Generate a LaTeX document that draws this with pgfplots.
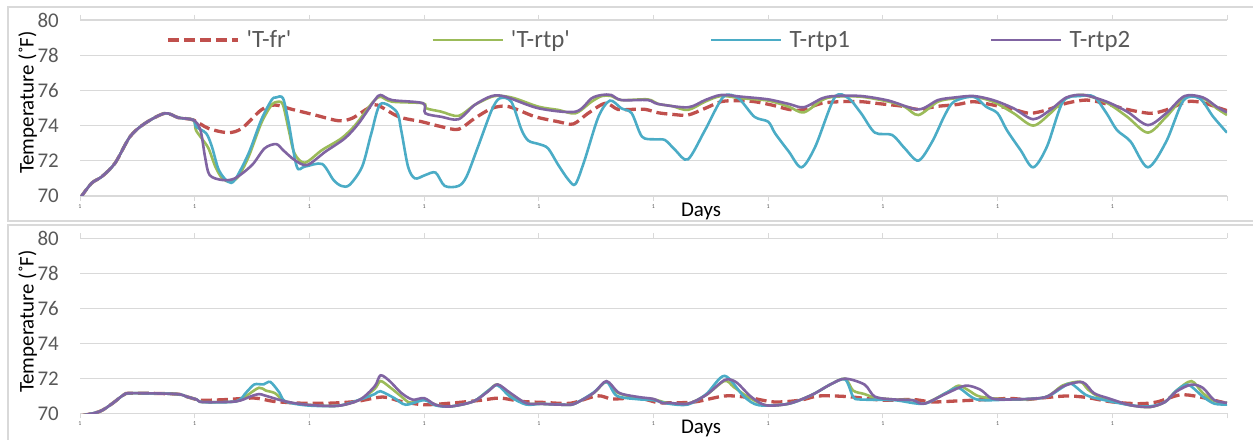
\documentclass[border=0pt]{standalone}
\usepackage{pgfplots}
\pgfplotsset{compat=1.18}
\usepackage{fontspec}
\setmainfont{Carlito}[Ligatures=TeXOff]
\definecolor{cfr}{HTML}{C0504D}
\definecolor{crtp}{HTML}{9BBB59}
\definecolor{crtpa}{HTML}{4BACC6}
\definecolor{crtpb}{HTML}{8064A2}
\definecolor{gridgray}{HTML}{D9D9D9}
\definecolor{tickgray}{HTML}{595959}
\pgfplotsset{panel/.style={
  scale only axis, width=1147bp, xmin=0, xmax=10, ymin=70, ymax=80,
  ytick={70,72,...,80}, xtick={0,...,10},
  xticklabels={1,1,1,1,1,1,1,1,1,1,{}},
  ymajorgrids, grid style={draw=gridgray, line width=1.3bp},
  axis line style={draw=none},
  tick align=outside, major tick length=5bp,
  xtick style={draw=gridgray, line width=1bp},
  ytick style={draw=none},
  yticklabel style={font=\fontsize{21}{21}\selectfont, text=tickgray, inner sep=0pt, anchor=east, xshift=-16bp},
  xticklabel style={font=\fontsize{6}{6}\selectfont, text=tickgray, inner sep=0pt, yshift=-3bp},
  /pgf/number format/assume math mode=true,
  every axis plot/.append style={smooth, tension=0.5},
  legend image code/.code={\draw[#1] (0bp,0bp) -- (70bp,0bp);},
}}
\tikzset{
  sfr/.style={cfr, line width=3.3bp, dash pattern=on 11bp off 5bp},
  srtp/.style={crtp, line width=2.6bp},
  srtpa/.style={crtpa, line width=2.6bp},
  srtpb/.style={crtpb, line width=2.6bp},
}
\begin{document}
\begin{tikzpicture}
\useasboundingbox (0,0) rectangle (1253bp,440bp);
\draw[gridgray, line width=1.3bp] (8bp,433bp) rectangle (1300bp,219bp);
\draw[gridgray, line width=1.3bp] (8bp,215bp) rectangle (1300bp,-10bp);
% ---------------- top panel
\begin{axis}[panel, height=176bp, at={(80bp,244bp)}, anchor=south west,
  legend style={draw=none, fill=none, at={(axis description cs:0.075,0.886)}, anchor=west,
    font=\fontsize{25}{25}\selectfont, text=tickgray, legend columns=4,
    /tikz/every even column/.append style={column sep=140bp},
    /tikz/every odd column/.append style={column sep=7bp},
    inner sep=0pt, nodes={inner sep=0pt}},
  legend cell align=left]
\addplot[sfr] table {
0 69.87
0.10 70.72
0.19 71.1
0.305 71.86
0.436 73.37
0.567 74.13
0.741 74.7
0.857 74.45
0.988 74.32
1.12 73.84
1.29 73.6
1.41 73.84
1.58 74.89
1.70 75.17
1.85 74.92
2.05 74.6
2.25 74.28
2.37 74.41
2.51 74.98
2.59 75.17
2.78 74.5
2.98 74.22
3.15 73.94
3.30 73.79
3.44 74.41
3.59 74.98
3.71 75.11
3.82 74.89
3.97 74.5
4.17 74.22
4.30 74.09
4.43 74.7
4.58 75.27
4.69 74.92
4.81 74.92
4.93 74.92
5.04 74.73
5.16 74.64
5.30 74.6
5.45 74.98
5.59 75.36
5.74 75.42
5.88 75.36
6.03 75.17
6.18 74.92
6.29 74.89
6.47 75.27
6.64 75.36
6.81 75.36
6.99 75.23
7.16 75.11
7.31 74.92
7.47 75.09
7.65 75.2
7.79 75.36
7.96 75.17
8.14 74.92
8.28 74.7
8.43 74.89
8.60 75.27
8.78 75.45
8.95 75.23
9.13 74.92
9.33 74.7
9.47 74.89
9.65 75.36
9.79 75.3
9.94 74.98
10.0 74.85
};
\addlegendentry{'T-fr'}
\addplot[srtp] table {
0 69.87
0.10 70.72
0.19 71.1
0.305 71.86
0.436 73.37
0.567 74.13
0.741 74.7
0.857 74.45
0.988 74.32
1.01 73.75
1.06 73.28
1.12 72.71
1.18 71.67
1.24 71.0
1.31 70.81
1.38 71.1
1.47 72.23
1.58 74.13
1.67 75.17
1.73 75.36
1.77 75.17
1.82 73.75
1.87 72.42
1.96 71.89
2.11 72.61
2.28 73.28
2.40 74.03
2.51 74.98
2.57 75.45
2.62 75.64
2.72 75.36
2.99 75.27
3.02 74.98
3.15 74.79
3.30 74.55
3.44 75.17
3.59 75.64
3.68 75.68
3.79 75.55
4.0 75.07
4.17 74.89
4.32 74.7
4.46 75.36
4.55 75.68
4.63 75.68
4.72 75.45
4.95 75.49
5.04 75.23
5.16 75.11
5.30 74.89
5.45 75.36
5.59 75.68
5.77 75.55
6.0 75.42
6.18 75.07
6.31 74.75
6.47 75.45
6.58 75.64
6.81 75.64
7.05 75.36
7.19 75.07
7.31 74.6
7.48 75.36
7.63 75.55
7.79 75.64
7.96 75.36
8.14 74.7
8.31 74.0
8.46 74.7
8.60 75.55
8.75 75.74
8.95 75.3
9.13 74.5
9.31 73.6
9.47 74.5
9.63 75.6
9.79 75.55
9.91 74.98
10.0 74.6
};
\addlegendentry{'T-rtp'}
\addplot[srtpa] table {
0 69.87
0.10 70.72
0.19 71.1
0.305 71.86
0.436 73.37
0.567 74.13
0.741 74.7
0.857 74.45
0.988 74.32
1.01 73.94
1.10 73.56
1.15 72.8
1.21 71.48
1.29 70.81
1.35 70.91
1.47 72.42
1.58 74.32
1.67 75.45
1.71 75.6
1.77 75.55
1.82 74.13
1.89 71.67
1.96 71.67
2.11 71.82
2.21 70.91
2.28 70.57
2.35 70.63
2.46 71.67
2.54 73.56
2.62 75.23
2.76 74.79
2.80 73.75
2.86 71.67
2.92 71.0
3.01 71.19
3.10 71.33
3.18 70.57
3.30 70.57
3.37 71.1
3.47 72.8
3.59 74.89
3.66 75.55
3.76 75.36
3.85 73.75
3.91 73.14
4.0 72.95
4.08 72.71
4.17 71.76
4.26 70.91
4.32 70.68
4.40 72.05
4.52 74.5
4.62 75.42
4.72 74.98
4.81 74.7
4.90 73.37
5.01 73.22
5.10 73.18
5.19 72.61
5.30 72.08
5.45 73.75
5.61 75.64
5.74 75.55
5.88 74.5
6.0 74.22
6.06 73.56
6.18 72.52
6.29 71.63
6.41 72.8
6.58 75.6
6.70 75.55
6.81 74.7
6.93 73.6
7.08 73.47
7.19 72.71
7.31 72.01
7.43 73.09
7.54 74.6
7.62 75.36
7.79 75.64
7.90 75.07
8.0 74.7
8.08 73.75
8.20 72.61
8.31 71.63
8.43 72.8
8.57 75.36
8.72 75.68
8.84 75.64
8.95 74.7
9.04 73.75
9.16 73.09
9.31 71.63
9.47 73.09
9.62 75.42
9.76 75.55
9.88 74.5
10.0 73.6
};
\addlegendentry{T-rtp1}
\addplot[srtpb] table {
0 69.87
0.10 70.72
0.19 71.1
0.305 71.86
0.436 73.37
0.567 74.13
0.741 74.7
0.857 74.45
0.988 74.32
1.05 73.75
1.09 72.23
1.13 71.19
1.24 70.91
1.35 71.0
1.50 71.76
1.61 72.71
1.71 72.95
1.77 72.61
1.87 72.05
1.98 71.76
2.14 72.52
2.31 73.28
2.43 74.13
2.57 75.45
2.62 75.74
2.72 75.45
2.99 75.27
3.01 74.7
3.15 74.5
3.30 74.36
3.44 75.17
3.59 75.68
3.71 75.64
4.0 74.98
4.32 74.79
4.46 75.55
4.55 75.74
4.63 75.74
4.72 75.45
4.95 75.45
5.04 75.23
5.30 75.04
5.45 75.45
5.59 75.74
5.77 75.64
6.0 75.49
6.18 75.23
6.31 75.04
6.47 75.55
6.58 75.68
6.81 75.68
7.05 75.42
7.31 74.92
7.48 75.45
7.63 75.6
7.79 75.68
7.96 75.45
8.14 74.98
8.31 74.36
8.46 74.89
8.60 75.6
8.75 75.74
8.95 75.36
9.13 74.79
9.31 74.03
9.47 74.7
9.63 75.68
9.79 75.6
9.91 75.07
10.0 74.75
};
\addlegendentry{T-rtp2}
\end{axis}
% ---------------- bottom panel
\begin{axis}[panel, height=175bp, at={(80bp,26.7bp)}, anchor=south west]
\addplot[sfr] table {
0 69.85
0.17 70.1
0.28 70.55
0.38 71.05
0.45 71.15
0.84 71.1
0.93 70.95
1.02 70.78
1.07 70.74
1.26 70.78
1.52 70.87
1.69 70.68
1.92 70.58
2.18 70.58
2.41 70.68
2.64 70.93
2.80 70.68
3.0 70.49
3.23 70.58
3.49 70.74
3.66 70.87
3.85 70.68
4.05 70.62
4.28 70.58
4.51 71.0
4.64 70.82
4.87 70.87
5.03 70.62
5.13 70.6
5.36 70.65
5.62 70.99
5.82 70.91
6.05 70.65
6.28 70.75
6.44 70.99
6.70 70.95
7.0 70.75
7.26 70.79
7.43 70.65
7.66 70.71
7.92 70.79
8.11 70.85
8.25 70.79
8.44 70.91
8.61 70.99
8.77 70.91
9.0 70.65
9.23 70.55
9.39 70.65
9.59 71.05
9.75 70.95
9.98 70.6
};
\addplot[srtp] table {
0 69.85
0.17 70.1
0.28 70.55
0.38 71.05
0.45 71.15
0.84 71.1
0.93 70.95
1.02 70.78
1.07 70.64
1.36 70.68
1.45 71.0
1.56 71.46
1.62 71.3
1.70 71.15
1.79 70.68
1.98 70.49
2.25 70.43
2.44 70.78
2.57 71.4
2.62 71.84
2.70 71.5
2.80 70.97
2.88 70.6
3.0 70.8
3.10 70.49
3.23 70.39
3.43 70.68
3.56 71.3
3.64 71.65
3.75 71.1
3.89 70.58
4.02 70.54
4.21 70.49
4.31 70.54
4.48 71.17
4.59 71.8
4.68 71.2
4.87 70.85
5.0 70.8
5.13 70.58
5.30 70.55
5.46 71.05
5.62 71.85
5.70 71.5
5.82 70.95
5.98 70.46
6.18 70.55
6.38 71.05
6.54 71.64
6.67 71.98
6.74 71.3
6.84 71.1
6.93 70.9
7.10 70.79
7.26 70.75
7.36 70.55
7.56 71.2
7.66 71.58
7.75 71.3
7.85 70.95
8.11 70.79
8.41 70.91
8.57 71.6
8.72 71.8
8.79 71.35
8.90 70.9
9.16 70.46
9.33 70.36
9.46 70.65
9.56 71.3
9.69 71.84
9.79 71.15
9.89 70.7
10.0 70.6
};
\addplot[srtpa] table {
0 69.85
0.17 70.1
0.28 70.55
0.38 71.05
0.45 71.15
0.84 71.1
0.93 70.95
1.02 70.78
1.07 70.64
1.36 70.68
1.45 71.2
1.52 71.65
1.60 71.65
1.66 71.79
1.74 71.17
1.79 70.68
1.98 70.45
2.25 70.43
2.44 70.78
2.57 71.1
2.62 71.26
2.74 70.87
2.84 70.49
3.0 70.75
3.10 70.45
3.23 70.39
3.43 70.68
3.56 71.3
3.64 71.6
3.75 70.95
3.89 70.5
4.02 70.54
4.21 70.49
4.31 70.54
4.48 71.2
4.59 71.8
4.68 71.0
4.87 70.8
5.0 70.75
5.13 70.55
5.30 70.5
5.46 71.1
5.62 72.14
5.79 70.95
5.92 70.46
6.18 70.55
6.38 71.05
6.54 71.64
6.67 71.94
6.74 70.95
6.80 70.79
7.10 70.75
7.36 70.55
7.56 71.2
7.66 71.45
7.82 70.79
8.11 70.79
8.41 70.91
8.57 71.5
8.64 71.7
8.77 71.05
8.90 70.8
9.16 70.46
9.33 70.4
9.46 70.65
9.56 71.3
9.66 71.64
9.79 70.95
9.89 70.55
10.0 70.5
};
\addplot[srtpb] table {
0 69.85
0.17 70.1
0.28 70.55
0.38 71.05
0.45 71.15
0.84 71.1
0.93 70.95
1.02 70.78
1.07 70.64
1.36 70.68
1.49 70.97
1.56 71.1
1.62 71.0
1.79 70.68
1.98 70.49
2.25 70.43
2.44 70.78
2.57 71.55
2.62 72.17
2.70 71.84
2.80 71.17
2.90 70.78
3.0 70.87
3.10 70.49
3.23 70.39
3.43 70.68
3.56 71.26
3.64 71.65
3.75 71.17
3.89 70.58
4.02 70.54
4.21 70.49
4.31 70.54
4.48 71.17
4.59 71.84
4.70 71.17
4.87 70.93
5.0 70.82
5.08 70.58
5.13 70.6
5.30 70.55
5.46 71.05
5.62 71.9
5.72 71.78
5.85 70.95
5.98 70.46
6.18 70.55
6.38 71.05
6.54 71.64
6.67 71.98
6.84 71.64
6.93 70.95
7.10 70.79
7.26 70.75
7.36 70.55
7.56 71.15
7.72 71.58
7.85 71.35
7.95 70.85
8.11 70.79
8.41 70.91
8.57 71.54
8.74 71.78
8.84 71.15
8.97 70.85
9.16 70.46
9.33 70.36
9.46 70.65
9.56 71.25
9.69 71.64
9.79 71.45
9.89 70.75
10.0 70.6
};
\end{axis}
\node[font=\fontsize{21}{21}\selectfont, anchor=base] at (701bp,223.3bp) {Days};
\node[font=\fontsize{21}{21}\selectfont, anchor=base] at (701bp,7bp) {Days};
\node[font=\fontsize{21}{21}\selectfont, anchor=base, rotate=90] at (33.5bp,337.5bp) {Temperature (˚F)};
\node[font=\fontsize{21}{21}\selectfont, anchor=base, rotate=90] at (33.5bp,118.5bp) {Temperature (˚F)};
\end{tikzpicture}
\end{document}
